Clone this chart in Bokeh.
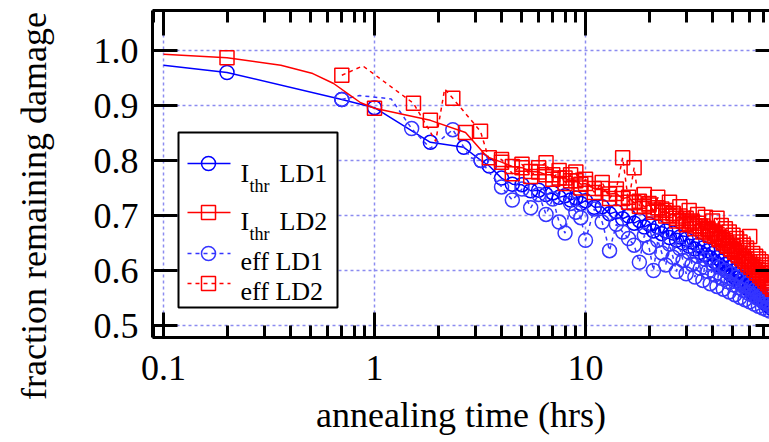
import math
from bokeh.plotting import figure
from bokeh.layouts import row
from bokeh.models import (FixedTicker, LinearAxis, LogAxis, CustomJSTickFormatter,
                          PrintfTickFormatter, Range1d, Div)
from bokeh.core.properties import value
from bokeh.embed import file_html
from bokeh.resources import INLINE

# ---------------- data ----------------
# I_thr LD1 (solid blue, circles)
ithr_ld1_t_early = [0.1, 0.2, 0.7, 1.0, 1.84, 2.65, 3.2, 3.5]
ithr_ld1_v_early = [0.973, 0.960, 0.911, 0.896, 0.833, 0.824, 0.800, 0.790]
ithr_ld1_mt_early = [0.2, 0.7, 1.0, 1.84, 2.65, 3.2, 3.5]
ithr_ld1_mv_early = [0.960, 0.911, 0.896, 0.833, 0.824, 0.800, 0.790]

# I_thr LD2 (solid red, squares)
ithr_ld2_t_early = [0.1, 0.2, 0.36, 0.51, 0.64, 0.77, 0.86, 1.0, 1.84, 2.7, 3.3, 3.5]
ithr_ld2_v_early = [0.993, 0.987, 0.973, 0.958, 0.940, 0.918, 0.905, 0.895, 0.873, 0.851, 0.813, 0.805]
ithr_ld2_mt_early = [0.2, 1.0, 1.84, 2.7, 3.5]
ithr_ld2_mv_early = [0.987, 0.895, 0.873, 0.851, 0.805]

# eff LD1 (dashed blue, circles)
eff_ld1_t_early = [0.7, 0.85, 1.2, 1.5, 1.84, 2.35, 2.85, 3.2, 3.5]
eff_ld1_v_early = [0.911, 0.918, 0.912, 0.858, 0.822, 0.856, 0.805, 0.800, 0.778]
eff_ld1_mt_early = [0.7, 1.5, 2.35, 3.2]
eff_ld1_mv_early = [0.911, 0.858, 0.856, 0.800]

# eff LD2 (dashed red, squares)
eff_ld2_t_early = [0.7, 0.88, 1.53, 1.95, 2.15, 2.35, 3.18, 3.5]
eff_ld2_v_early = [0.955, 0.972, 0.904, 0.835, 0.930, 0.913, 0.853, 0.800]
eff_ld2_mt_early = [0.7, 1.53, 2.35, 3.18]
eff_ld2_mv_early = [0.955, 0.904, 0.913, 0.853]

# dense measurement period (hours), shared by all four series
hours_dense = [4.0, 4.5, 5.0, 5.5, 6.0, 6.5, 7.0, 7.5, 8.0, 8.5, 9.0, 9.5, 10,
               11, 12, 13, 14, 15, 16, 17, 18, 19, 20,
               21, 22, 23, 24, 25, 26, 27, 28, 29, 30, 31, 32, 33, 34, 35, 36, 37, 38, 39, 40,
               41, 42, 43, 44, 45, 46, 47, 48, 49, 50, 51, 52, 53, 54, 55, 56, 57, 58, 59, 60,
               61, 62, 63, 64, 65, 66, 67, 68, 69, 70, 71, 72, 73, 74, 75, 76, 77]

ithr_ld1_dense = [0.768, 0.757, 0.756, 0.745, 0.746, 0.738, 0.741, 0.733, 0.736, 0.728, 0.732, 0.722, 0.727,
                  0.715, 0.716, 0.703, 0.707, 0.694, 0.699, 0.686, 0.691, 0.679, 0.684,
                  0.672, 0.679, 0.667, 0.672, 0.660, 0.668, 0.655, 0.661, 0.650, 0.657,
                  0.644, 0.652, 0.639, 0.646, 0.633, 0.641, 0.628, 0.636, 0.623, 0.631,
                  0.616, 0.623, 0.610, 0.617, 0.604, 0.611, 0.598, 0.605, 0.592, 0.599,
                  0.587, 0.593, 0.581, 0.588, 0.576, 0.583, 0.571, 0.578, 0.566, 0.573,
                  0.561, 0.568, 0.557, 0.563, 0.552, 0.559, 0.548, 0.554, 0.544, 0.550,
                  0.540, 0.546, 0.537, 0.542, 0.533, 0.539, 0.530]

eff_ld1_dense = [0.752, 0.728, 0.748, 0.714, 0.738, 0.702, 0.730, 0.688, 0.668, 0.722, 0.706, 0.696, 0.655,
                 0.712, 0.688, 0.636, 0.684, 0.670, 0.658, 0.646, 0.615, 0.664, 0.642,
                 0.600, 0.655, 0.632, 0.610, 0.648, 0.624, 0.598, 0.640, 0.618, 0.594,
                 0.633, 0.611, 0.588, 0.626, 0.604, 0.582, 0.620, 0.598, 0.576, 0.612,
                 0.592, 0.571, 0.606, 0.586, 0.566, 0.600, 0.580, 0.561, 0.594, 0.574,
                 0.556, 0.588, 0.569, 0.551, 0.582, 0.564, 0.547, 0.576, 0.559, 0.543,
                 0.571, 0.555, 0.539, 0.566, 0.550, 0.535, 0.561, 0.546, 0.532, 0.556,
                 0.542, 0.529, 0.552, 0.538, 0.526, 0.548, 0.535]

ithr_ld2_dense = [0.797, 0.789, 0.787, 0.780, 0.779, 0.774, 0.774, 0.768, 0.768, 0.763, 0.763, 0.757, 0.758,
                  0.749, 0.749, 0.739, 0.740, 0.731, 0.733, 0.723, 0.726, 0.716, 0.719,
                  0.710, 0.714, 0.705, 0.709, 0.700, 0.704, 0.695, 0.699, 0.690, 0.695,
                  0.686, 0.690, 0.681, 0.686, 0.677, 0.681, 0.672, 0.677, 0.668, 0.672,
                  0.662, 0.666, 0.656, 0.660, 0.650, 0.654, 0.644, 0.648, 0.638, 0.643,
                  0.633, 0.637, 0.627, 0.632, 0.622, 0.626, 0.617, 0.621, 0.611, 0.616,
                  0.606, 0.611, 0.601, 0.606, 0.596, 0.601, 0.591, 0.596, 0.586, 0.591,
                  0.582, 0.586, 0.577, 0.582, 0.572, 0.577, 0.568]

eff_ld2_dense = [0.802, 0.776, 0.793, 0.771, 0.787, 0.796, 0.766, 0.782, 0.758, 0.774, 0.779, 0.750, 0.766,
                 0.742, 0.760, 0.731, 0.748, 0.805, 0.724, 0.787, 0.717, 0.738, 0.722,
                 0.706, 0.733, 0.712, 0.699, 0.724, 0.703, 0.690, 0.716, 0.694, 0.683,
                 0.709, 0.688, 0.676, 0.702, 0.681, 0.670, 0.697, 0.675, 0.664, 0.690,
                 0.668, 0.695, 0.658, 0.682, 0.652, 0.676, 0.646, 0.670, 0.640, 0.664,
                 0.634, 0.658, 0.628, 0.652, 0.622, 0.646, 0.617, 0.641, 0.611, 0.662,
                 0.606, 0.631, 0.601, 0.626, 0.596, 0.621, 0.591, 0.616, 0.586, 0.610,
                 0.581, 0.605, 0.576, 0.600, 0.571, 0.595, 0.566]

x_major_ticks = [0.1, 1, 10, 100]
y_major_ticks = [0.5, 0.6, 0.7, 0.8, 0.9, 1.0]
series_labels = ["LD1", "LD2", "eff LD1", "eff LD2"]
x_title = "annealing time (hrs)"
y_title = "fraction remaining damage"

# ---------------- geometry (image pixels) ----------------
FONT = "Liberation Serif"
TOTAL_H = 442
TITLE_W = 60                      # narrow strip on the left holding the y title
FRAME_L, FRAME_T, FRAME_W, FRAME_H = 152, 10, 617, 327
DEC_PX = 211.0
X0 = 10 ** (-1 - 11 / DEC_PX)
X1 = 10 ** (math.log10(X0) + FRAME_W / DEC_PX)
Y_PER_PX = 0.1 / 55.0
Y1 = 1.0 + 40 * Y_PER_PX
Y0 = Y1 - FRAME_H * Y_PER_PX


def px2x(px):
    return 10 ** (math.log10(X0) + (px - FRAME_L) / DEC_PX)


def px2y(py):
    return Y1 - (py - FRAME_T) * Y_PER_PX


BLUE = "#0000ff"
BLUE2 = "#3535ff"
RED = "#ff0000"
GRID = "#8c8cf0"

# ---------------- y-title strip (rotated HTML text) ----------------
title_html = (
    f'<div style="position:relative;width:{TITLE_W}px;height:{TOTAL_H}px;">'
    f'<div style="position:absolute;left:34px;top:206px;'
    f'transform:translate(-50%,-50%) rotate(-90deg);white-space:nowrap;'
    f"font-family:'{FONT}';font-size:36px;line-height:1;color:black;\">"
    f'{y_title}</div></div>'
)
ytitle = Div(text=title_html, width=TITLE_W, height=TOTAL_H, margin=0,
             styles={"overflow": "visible"})

# ---------------- main plot ----------------
p = figure(x_axis_type="log", x_range=Range1d(X0, X1), y_range=Range1d(Y0, Y1),
           frame_width=FRAME_W, frame_height=FRAME_H,
           min_border_left=FRAME_L - TITLE_W, min_border_top=FRAME_T,
           min_border_right=0, min_border_bottom=TOTAL_H - FRAME_T - FRAME_H,
           output_backend="svg", toolbar_location=None,
           background_fill_color="white", border_fill_color="white")
p.outline_line_color = None

minor = []
for d in [0.01, 0.1, 1, 10]:
    for m in range(2, 10):
        minor.append(round(d * m, 4))
xticker = FixedTicker(ticks=x_major_ticks, minor_ticks=minor)
yticker = FixedTicker(ticks=y_major_ticks, minor_ticks=[])


def style_axis(ax, major_in, minor_in, labels=True):
    ax.axis_line_width = 3
    ax.axis_line_color = "black"
    ax.major_tick_in = major_in
    ax.major_tick_out = 0
    ax.minor_tick_in = minor_in
    ax.minor_tick_out = 0
    ax.major_tick_line_width = 3
    ax.minor_tick_line_width = 3
    ax.major_tick_line_color = "black"
    ax.minor_tick_line_color = "black" if minor_in > 0 else None
    if labels:
        ax.major_label_text_font = FONT
        ax.major_label_text_font_size = "36px"
        ax.major_label_text_color = "black"
        ax.axis_label_text_font = FONT
        ax.axis_label_text_font_size = "36px"
        ax.axis_label_text_font_style = "normal"
        ax.axis_label_text_color = "black"
    else:
        ax.major_label_text_font_size = "0px"
        ax.major_label_standoff = 0
        ax.axis_label = None


xa = p.xaxis[0]
xa.ticker = xticker
xa.formatter = CustomJSTickFormatter(code="return String(Number(tick.toPrecision(3)));")
style_axis(xa, 25, 12)
xa.major_label_standoff = 18
xa.axis_label = x_title
xa.axis_label_standoff = 12

ya = p.yaxis[0]
ya.ticker = yticker
ya.formatter = PrintfTickFormatter(format="%.1f")
style_axis(ya, 25, 0)
ya.major_label_standoff = 14
ya.axis_label = None

top = LogAxis(ticker=xticker, formatter=CustomJSTickFormatter(code="return '';"))
style_axis(top, 25, 12, labels=False)
p.add_layout(top, "above")

right = LinearAxis(ticker=yticker, formatter=CustomJSTickFormatter(code="return '';"))
style_axis(right, 14, 0, labels=False)
right.axis_line_color = None
p.add_layout(right, "right")

for g in (p.xgrid[0], p.ygrid[0]):
    g.grid_line_color = GRID
    g.grid_line_dash = "3 3"
    g.grid_line_width = 1.5
p.xgrid[0].ticker = FixedTicker(ticks=x_major_ticks)
p.ygrid[0].ticker = FixedTicker(ticks=y_major_ticks)

# ---------------- series ----------------
series = [
    (ithr_ld1_t_early, ithr_ld1_v_early, ithr_ld1_mt_early, ithr_ld1_mv_early, ithr_ld1_dense, BLUE, "circle", "solid"),
    (eff_ld1_t_early, eff_ld1_v_early, eff_ld1_mt_early, eff_ld1_mv_early, eff_ld1_dense, BLUE2, "circle", "4 4"),
    (ithr_ld2_t_early, ithr_ld2_v_early, ithr_ld2_mt_early, ithr_ld2_mv_early, ithr_ld2_dense, RED, "square", "solid"),
    (eff_ld2_t_early, eff_ld2_v_early, eff_ld2_mt_early, eff_ld2_mv_early, eff_ld2_dense, RED, "square", "4 4"),
]
for te, ve, mte, mve, vd, col, mk, dash in series:
    p.line(te + hours_dense, ve + vd, line_color=col, line_width=1.5, line_dash=dash)
    p.scatter(mte + hours_dense, mve + vd, marker=mk, size=14, line_color=col,
              line_width=1.5, fill_color=None)

# ---------------- legend (drawn by hand to allow subscripts) ----------------
lg = p.quad(left=[px2x(178)], right=[px2x(337)], top=[px2y(132)], bottom=[px2y(307)],
            fill_color="white", line_color="black", line_width=2)
lg.level = "overlay"

rows = [  # (line y, baseline y, colour, marker, dash, subscript?, label)
    (163, 173, BLUE, "circle", "solid", True, series_labels[0]),
    (212, 221, RED, "square", "solid", True, series_labels[1]),
    (253, 261, BLUE2, "circle", "4 4", False, series_labels[2]),
    (283, 291, RED, "square", "4 4", False, series_labels[3]),
]
for ly, by, col, mk, dash, sub, lab in rows:
    r = p.line([px2x(187), px2x(230)], [px2y(ly), px2y(ly)], line_color=col,
               line_width=1.5, line_dash=dash)
    r.level = "overlay"
    r = p.scatter([px2x(208)], [px2y(ly)], marker=mk, size=14, line_color=col,
                  line_width=1.5, fill_color=None)
    r.level = "overlay"
    if sub:
        r = p.text([px2x(240)], [px2y(by)], text=["I"], text_font=value(FONT),
                   text_font_size="26px", text_baseline="alphabetic", text_color="black")
        r.level = "overlay"
        r = p.text([px2x(249)], [px2y(by + 12)], text=["thr"], text_font=value(FONT),
                   text_font_size="18px", text_baseline="alphabetic", text_color="black")
        r.level = "overlay"
        r = p.text([px2x(279)], [px2y(by)], text=[lab], text_font=value(FONT),
                   text_font_size="26px", text_baseline="alphabetic", text_color="black")
        r.level = "overlay"
    else:
        r = p.text([px2x(240)], [px2y(by)], text=[lab], text_font=value(FONT),
                   text_font_size="26px", text_baseline="alphabetic", text_color="black")
        r.level = "overlay"

layout = row(ytitle, p, spacing=0)
open("out.html", "w").write(file_html(layout, INLINE))
